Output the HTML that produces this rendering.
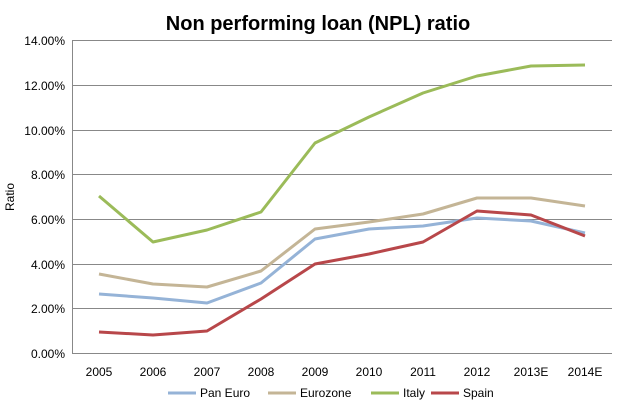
<!DOCTYPE html>
<html><head><meta charset="utf-8"><style>
body{margin:0;background:#fff;}
svg{display:block;font-family:"Liberation Sans",Arial,sans-serif;}
</style></head><body>
<svg width="624" height="409" viewBox="0 0 624 409">
<rect width="624" height="409" fill="#fff"/>
<text x="318" y="30" font-size="20" font-weight="bold" text-anchor="middle" fill="#000">Non performing loan (NPL) ratio</text>
<g stroke="#888" stroke-width="1">
<line x1="72" y1="40.5" x2="612" y2="40.5"/>
<line x1="72" y1="85.5" x2="612" y2="85.5"/>
<line x1="72" y1="130.5" x2="612" y2="130.5"/>
<line x1="72" y1="174.5" x2="612" y2="174.5"/>
<line x1="72" y1="219.5" x2="612" y2="219.5"/>
<line x1="72" y1="264.5" x2="612" y2="264.5"/>
<line x1="72" y1="308.5" x2="612" y2="308.5"/>
<line x1="72" y1="353.5" x2="612" y2="353.5"/>
<line x1="72.5" y1="40" x2="72.5" y2="353"/>
</g>
<g font-size="12" text-anchor="end" fill="#000">
<text x="65" y="45">14.00%</text><text x="65" y="90">12.00%</text><text x="65" y="135">10.00%</text>
<text x="65" y="179">8.00%</text><text x="65" y="224">6.00%</text><text x="65" y="269">4.00%</text>
<text x="65" y="313">2.00%</text><text x="65" y="358">0.00%</text>
</g>
<text transform="translate(14,197) rotate(-90)" font-size="12" text-anchor="middle">Ratio</text>
<g font-size="12" text-anchor="middle">
<text x="99" y="376">2005</text><text x="153" y="376">2006</text><text x="207" y="376">2007</text>
<text x="261" y="376">2008</text><text x="315" y="376">2009</text><text x="369" y="376">2010</text>
<text x="423" y="376">2011</text><text x="477" y="376">2012</text><text x="531" y="376">2013E</text>
<text x="585" y="376">2014E</text>
</g>
<g fill="none" stroke-width="3" stroke-linejoin="round">
<polyline stroke="#95B3D7" points="99,294 153,298 207,303 261,283 315,239 369,229 423,226 477,218 531,221 585,233"/>
<polyline stroke="#C4B596" points="99,274 153,284 207,287 261,271 315,229 369,222 423,214 477,198 531,198 585,206"/>
<polyline stroke="#9BBB59" points="99,196 153,242 207,230 261,212 315,143 369,117 423,93 477,76 531,66 585,65"/>
<polyline stroke="#B8474A" points="99,332 153,335 207,331 261,299 315,264 369,254 423,242 477,211 531,215 585,236"/>
</g>
<g font-size="12">
<line x1="168" y1="393" x2="196" y2="393" stroke="#95B3D7" stroke-width="3"/><text x="200" y="397">Pan Euro</text>
<line x1="268" y1="393" x2="296" y2="393" stroke="#C4B596" stroke-width="3"/><text x="300" y="397">Eurozone</text>
<line x1="371" y1="393" x2="399" y2="393" stroke="#9BBB59" stroke-width="3"/><text x="403" y="397">Italy</text>
<line x1="431" y1="393" x2="459" y2="393" stroke="#B8474A" stroke-width="3"/><text x="463" y="397">Spain</text>
</g>
</svg>
</body></html>
